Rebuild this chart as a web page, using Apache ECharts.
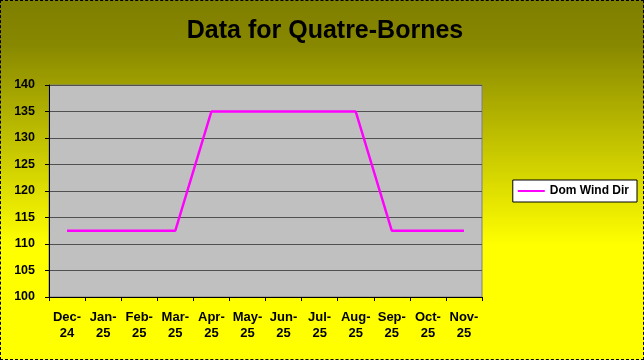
<!DOCTYPE html>
<html><head><meta charset="utf-8">
<script src="https://cdn.jsdelivr.net/npm/echarts@6/dist/echarts.min.js"></script>
<style>html,body{margin:0;padding:0;}#c{width:644px;height:360px;}</style>
</head><body><div id="c"></div>
<script>
const categories = ['Dec-\n24','Jan-\n25','Feb-\n25','Mar-\n25','Apr-\n25','May-\n25','Jun-\n25','Jul-\n25','Aug-\n25','Sep-\n25','Oct-\n25','Nov-\n25'];
const domWindDir = [112.5,112.5,112.5,112.5,135,135,135,135,135,112.5,112.5,112.5];
const yTicks = {min:100, max:140, interval:5};

const chart = echarts.init(document.getElementById('c'));
chart.setOption({
  animation:false,
  backgroundColor:{type:'linear',x:0,y:0,x2:0,y2:1,colorStops:[
    {offset:0,color:'#7f7f00'},{offset:0.12,color:'#878700'},{offset:0.68,color:'#ffff00'},{offset:1,color:'#ffff00'}]},
  title:{text:'Data for Quatre-Bornes',left:320,top:14,textAlign:'center',
    textStyle:{fontFamily:'Liberation Sans',fontWeight:'bold',fontSize:25,color:'#000'}},
  legend:{right:7,top:180,orient:'vertical',backgroundColor:'#fff',borderColor:'#000',borderWidth:1,
    padding:[5,8,5,5],itemWidth:27,itemHeight:2,icon:'rect',itemGap:5,
    textStyle:{fontFamily:'Liberation Sans',fontWeight:'bold',fontSize:12,color:'#000'},
    data:['Dom Wind Dir']},
  grid:{left:49,right:162,top:85,bottom:63,show:true,backgroundColor:'#c0c0c0',borderColor:'#808080',borderWidth:1},
  xAxis:{type:'category',data:categories,boundaryGap:true,
    axisLine:{lineStyle:{color:'#000'}},
    axisTick:{show:true,alignWithLabel:false,length:4,lineStyle:{color:'#000'}},
    axisLabel:{interval:0,margin:12,fontFamily:'Liberation Sans',fontWeight:'bold',fontSize:13,color:'#000',lineHeight:16}},
  yAxis:{type:'value',min:yTicks.min,max:yTicks.max,interval:yTicks.interval,
    axisLine:{show:true,lineStyle:{color:'#000'}},
    axisTick:{show:true,length:4,lineStyle:{color:'#000'}},
    splitLine:{lineStyle:{color:'#505050',width:1}},
    axisLabel:{margin:14,fontFamily:'Liberation Sans',fontWeight:'bold',fontSize:12.5,color:'#000'}},
  series:[{name:'Dom Wind Dir',type:'line',data:domWindDir,symbol:'none',
    lineStyle:{color:'#ff00ff',width:2.5},itemStyle:{color:'#ff00ff'}}]
});
</script>
<div style="position:absolute;left:0;top:0;width:642px;height:358px;border:1px dashed #000;pointer-events:none;"></div>
</body></html>
